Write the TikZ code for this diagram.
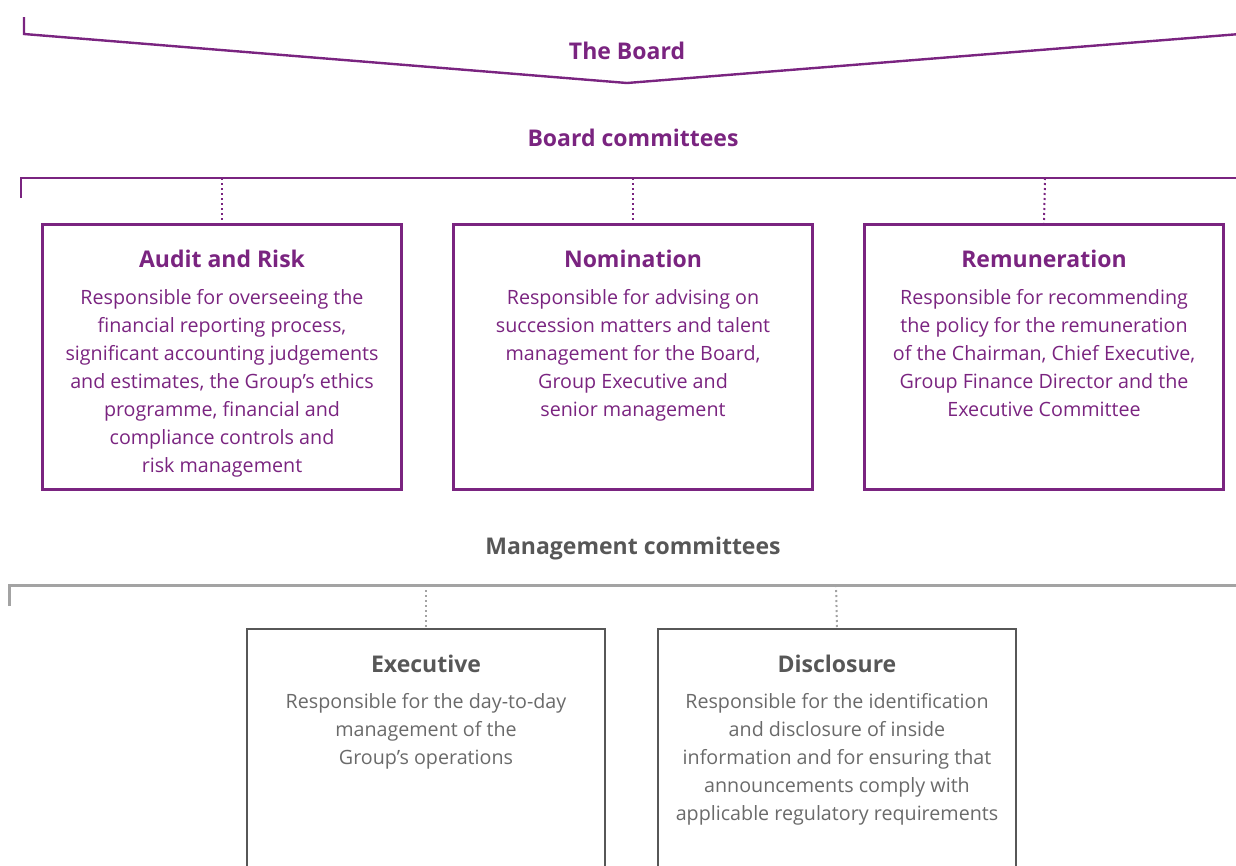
\documentclass[tikz,border=0pt]{standalone}
\usepackage{fontspec}
\setmainfont{Open Sans}
\definecolor{brd}{HTML}{7A2480}
\definecolor{mgr}{HTML}{575757}
\definecolor{mtx}{HTML}{6A6A6A}
\definecolor{lgr}{HTML}{A3A3A3}
\tikzset{
  vline/.style={brd, line width=2.4pt},
  bracket/.style={brd, line width=2.4pt},
  mbracket/.style={lgr, line width=3pt},
  dots/.style={brd, line width=2pt, dash pattern=on 2pt off 3pt},
  mdots/.style={lgr, line width=2pt, dash pattern=on 2pt off 3pt},
  heading/.style={inner sep=0pt, anchor=base, font=\bfseries\fontsize{23}{28}\selectfont},
  cbox/.style={draw=brd, line width=2.2pt, minimum width=359pt, minimum height=265pt, inner sep=0pt},
  mbox/.style={draw=mgr, line width=2.6pt, minimum width=358pt, minimum height=260pt, inner sep=0pt},
  ctitle/.style={inner sep=0pt, anchor=base, text=brd, font=\bfseries\fontsize{23}{28}\selectfont},
  mtitle/.style={inner sep=0pt, anchor=base, text=mgr, font=\bfseries\fontsize{23}{28}\selectfont},
  cbody/.style={inner sep=0pt, anchor=north, align=center, text=brd, font=\fontsize{19.7}{28}\selectfont},
  mbody/.style={inner sep=0pt, anchor=north, align=center, text=mtx, font=\fontsize{19.7}{28}\selectfont},
}
\begin{document}
\begin{tikzpicture}[x=1pt,y=-1pt]
\useasboundingbox (0,0) rectangle (1236,865);

% The Board: chevron line
\coordinate (vtop) at (24,17);
\coordinate (vleft) at (24,34);
\coordinate (vtip) at (627,83);
\coordinate (vright) at (1240,34);
\draw[vline, line join=miter] (vtop) -- (vleft) -- (vtip) -- (vright);
\node[heading, text=brd] (board) at (627,59) {The Board};

% Board committees
\node[heading, text=brd] (bc) at (633,146) {Board committees};
\coordinate (bl) at (21,198);
\coordinate (bt) at (21,178);
\coordinate (br) at (1240,178);
\draw[bracket] (bl) -- (bt) -- (br);
\coordinate (b1) at (222,178);
\coordinate (b2) at (633,178);
\coordinate (b3) at (1045,178);

\node[cbox] (audit) at (222,357) {};
\node[cbox] (nom) at (633,357) {};
\node[cbox] (rem) at (1044,357) {};
\draw[dots] (b1) -- (audit.north);
\draw[dots] (b2) -- (nom.north);
\draw[dots] (b3) -- (rem.north);

\node[ctitle] (auditT) at (222,267) {Audit and Risk};
\node[cbody] (auditB) at (222,284.5) {\strut Responsible for overseeing the\\financial reporting process,\\significant accounting judgements\\and estimates, the Group’s ethics\\programme, financial and\\compliance controls and\\risk management};
\node[ctitle] (nomT) at (633,267) {Nomination};
\node[cbody] (nomB) at (633,284.5) {\strut Responsible for advising on\\succession matters and talent\\management for the Board,\\Group Executive and\\senior management};
\node[ctitle] (remT) at (1044,267) {Remuneration};
\node[cbody] (remB) at (1044,284.5) {\strut Responsible for recommending\\the policy for the remuneration\\of the Chairman, Chief Executive,\\Group Finance Director and the\\Executive Committee};

% Management committees
\node[heading, text=mgr] (mc) at (633,554) {Management committees};
\coordinate (ml) at (9,606);
\coordinate (mt) at (9,585);
\coordinate (mr) at (1240,585);
\draw[mbracket] (ml) -- (mt) -- (mr);
\coordinate (m1) at (426,585);
\coordinate (m2) at (836,585);

\node[mbox] (exec) at (426,759) {};
\node[mbox] (disc) at (837,759) {};
\draw[mdots] (m1) -- (exec.north);
\draw[mdots] (m2) -- (disc.north);

\node[mtitle] (execT) at (426,672) {Executive};
\node[mbody] (execB) at (426,688.5) {\strut Responsible for the day-to-day\\management of the\\Group’s operations};
\node[mtitle] (discT) at (837,672) {Disclosure};
\node[mbody] (discB) at (837,688.5) {\strut Responsible for the identification\\and disclosure of inside\\information and for ensuring that\\announcements comply with\\applicable regulatory requirements};
\end{tikzpicture}
\end{document}
